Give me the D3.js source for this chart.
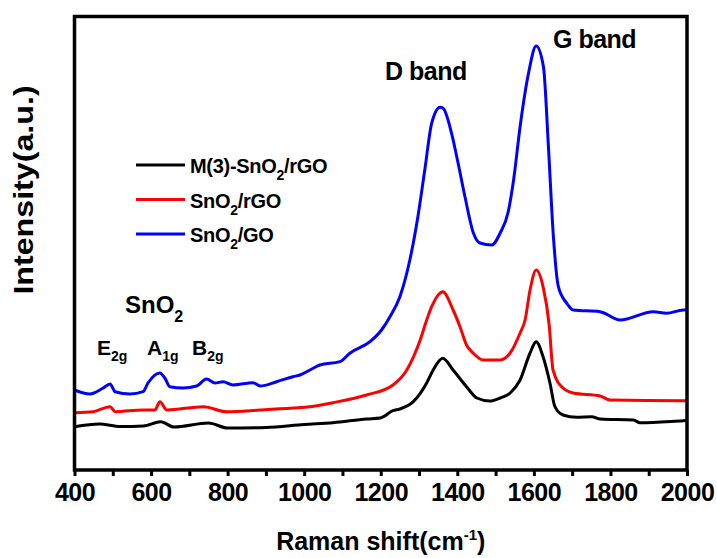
<!DOCTYPE html>
<html>
<head>
<meta charset="utf-8">
<script src="https://cdn.jsdelivr.net/npm/d3@7"></script>
<style>
  body { margin: 0; background: #fff; }
  text { font-family: "Liberation Sans", Arial, sans-serif; font-weight: bold; fill: #000; }
</style>
</head>
<body>
<script>
// Raman spectra, [shift cm-1, intensity a.u.]
var blackData = [
  [400, 43.3], [465, 46], [520, 43.5], [580, 44], [625, 48.3], [660, 43], [750, 47],
  [800, 42], [900, 42.5], [1000, 45.5], [1075, 47.3], [1163, 51], [1198, 52],
  [1232, 59.3], [1250, 61], [1285, 68.3], [1320, 87], [1337, 100], [1362, 111.7],
  [1389, 100], [1424, 83.3], [1451, 72], [1485, 69], [1512, 72], [1538, 77],
  [1564, 90], [1590, 117], [1606, 128.3], [1624, 113.3], [1642, 87], [1655, 63.3],
  [1676, 55], [1712, 52.7], [1751, 53.3], [1773, 51], [1860, 50], [1877, 47.3],
  [1990, 49.3], [2000, 49.5]
];
var redData = [
  [400, 57.3], [449, 58.3], [493, 63.3], [506, 58.3], [579, 60], [610, 60], [623, 68.3],
  [641, 60], [737, 63.3], [797, 58.3], [885, 60], [971, 62], [1015, 63.3], [1075, 67.3],
  [1163, 75], [1232, 85], [1268, 100], [1303, 130], [1320, 150], [1333, 163.3],
  [1362, 178.3], [1389, 160], [1407, 143.3], [1424, 125], [1441, 117], [1468, 110],
  [1512, 110], [1538, 117], [1564, 137], [1577, 150], [1590, 180], [1606, 200],
  [1624, 183.3], [1640, 145], [1650, 100], [1676, 82], [1703, 77], [1773, 74],
  [1799, 70], [1990, 69.3], [2000, 69.3]
];
var blueData = [
  [400, 80], [440, 76], [475, 82], [493, 86], [506, 78.3], [545, 76], [579, 78.3],
  [592, 87], [623, 97], [636, 92], [649, 83.3], [684, 82], [719, 84], [745, 91],
  [767, 87], [788, 88.3], [814, 85], [866, 87.3], [885, 84], [928, 88.3], [971, 93.3],
  [989, 95], [1015, 100], [1041, 105], [1093, 108.3], [1120, 117], [1172, 128.3],
  [1202, 140], [1224, 153.3], [1250, 173.3], [1276, 210], [1297, 253.3], [1315, 300],
  [1333, 346.7], [1355, 362.7], [1363, 361.7], [1385, 336.7], [1402, 307], [1420, 273.3],
  [1442, 237], [1459, 227], [1490, 225], [1512, 237], [1533, 258.3], [1547, 290],
  [1564, 343.3], [1586, 396.7], [1606, 424], [1625, 403.3], [1638, 323.3], [1651, 233.3],
  [1664, 183.3], [1686, 166.7], [1703, 160], [1773, 158.3], [1825, 150], [1912, 158.3],
  [1947, 156.7], [1990, 160], [2000, 160]
];

var seriesNames = ["M(3)-SnO|2|/rGO", "SnO|2|/rGO", "SnO|2|/GO"];
var seriesColors = ["#000000", "#ff0000", "#0000ff"];
var xTicks = d3.range(400, 2001, 100);

const WIDTH = 717;
const HEIGHT = 558;
const M = { left: 74.5, right: 687, top: 16.5, bottom: 470 };

var x = d3.scaleLinear().domain([400, 2000]).range([M.left, M.right]);
var y = d3.scaleLinear().domain([0, 453.5]).range([M.bottom, M.top]);

var svg = d3.select("body").append("svg")
    .attr("width", WIDTH)
    .attr("height", HEIGHT);

// spectra
var line = d3.line()
    .x(d => x(d[0]))
    .y(d => y(d[1]))
    .curve(d3.curveMonotoneX);

[blackData, redData, blueData].forEach(function(data, i) {
  svg.append("path")
    .datum(data)
    .attr("d", line)
    .attr("fill", "none")
    .attr("stroke", seriesColors[i])
    .attr("stroke-width", 3)
    .attr("stroke-linejoin", "round");
});

// x axis
var xAxis = svg.append("g")
    .attr("transform", `translate(0,${M.bottom})`)
    .call(d3.axisBottom(x)
      .tickValues(xTicks)
      .tickSize(6)
      .tickSizeOuter(0)
      .tickFormat(d => d % 200 === 0 ? d : ""));
xAxis.select(".domain").remove();
xAxis.selectAll(".tick line").attr("stroke", "#000").attr("stroke-width", 3);
xAxis.selectAll(".tick text")
    .attr("y", 31)
    .attr("dy", 0)
    .attr("font-size", 25)
    .attr("letter-spacing", -0.5)
    .style("font-family", '"Liberation Sans", Arial, sans-serif')
    .style("font-weight", "bold");

// frame
svg.append("rect")
    .attr("x", M.left).attr("y", M.top)
    .attr("width", M.right - M.left).attr("height", M.bottom - M.top)
    .attr("fill", "none")
    .attr("stroke", "#000")
    .attr("stroke-width", 3.5);

// axis titles
var xt = svg.append("text")
    .attr("x", (M.left + M.right) / 2).attr("y", 550)
    .attr("text-anchor", "middle")
    .attr("font-size", 25);
xt.append("tspan").text("Raman shift(cm");
xt.append("tspan").attr("font-size", 15).attr("dy", -10).text("-1");
xt.append("tspan").attr("dy", 10).text(")");

svg.append("text")
    .attr("transform", "translate(33,190) rotate(-90) scale(1.15,1)")
    .attr("text-anchor", "middle")
    .attr("font-size", 28)
    .text("Intensity(a.u.)");

// labels with subscripts: "base|sub|rest"
function subText(g, str, size, subSize, shift) {
  var parts = str.split("|");
  g.append("tspan").text(parts[0]);
  if (parts.length > 1) {
    g.append("tspan").attr("font-size", subSize).attr("dy", shift).text(parts[1]);
    if (parts[2]) g.append("tspan").attr("font-size", size).attr("dy", -shift).text(parts[2]);
  }
}

// legend
seriesNames.forEach(function(name, i) {
  var ly = 165 + i * 34.5;
  svg.append("line")
    .attr("x1", 136).attr("x2", 185)
    .attr("y1", ly).attr("y2", ly)
    .attr("stroke", seriesColors[i])
    .attr("stroke-width", 3);
  var t = svg.append("text")
    .attr("x", 190).attr("y", ly + 8)
    .attr("font-size", 20)
    .attr("letter-spacing", -0.3);
  subText(t, name, 20, 14, 7);
});

// band annotations
svg.append("text").attr("x", 385).attr("y", 80).attr("font-size", 25)
    .attr("letter-spacing", -0.5).text("D band");
svg.append("text").attr("x", 553).attr("y", 48).attr("font-size", 25)
    .attr("letter-spacing", -0.5).text("G band");

var sn = svg.append("text").attr("x", 125).attr("y", 313).attr("font-size", 24);
subText(sn, "SnO|2|", 24, 16, 9);

[["E|2g|", 97], ["A|1g|", 147], ["B|2g|", 192]].forEach(function(m) {
  var t = svg.append("text").attr("x", m[1]).attr("y", 355).attr("font-size", 21);
  subText(t, m[0], 21, 14, 6);
});
</script>
</body>
</html>
